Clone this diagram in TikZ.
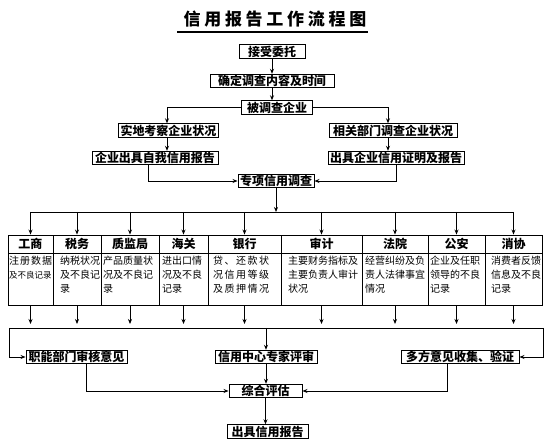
\documentclass[tikz,border=0pt]{standalone}
\usepackage{fontspec}
\setmainfont{Noto Sans CJK SC}
\newfontfamily\titlefont[LetterSpace=22]{Noto Sans CJK SC}
\newfontfamily\widefont[LetterSpace=15]{Noto Sans CJK SC}
\usetikzlibrary{arrows.meta,positioning,calc}

\begin{document}
\begin{tikzpicture}[x=1pt, y=-1pt, >={Stealth[length=5pt,width=4pt]},
  font=\fontsize{12}{12}\selectfont,
  box/.style={draw, line width=0.9pt, inner xsep=2pt, inner ysep=0pt,
    minimum height=13.5pt, font=\fontsize{12}{12}\selectfont\bfseries},
  flow/.style={->, line width=0.8pt},
  link/.style={line width=0.8pt},
  headcell/.style={draw, line width=0.9pt, minimum height=18pt, inner sep=0pt,
    font=\fontsize{12}{12}\selectfont\bfseries},
  bodycell/.style={draw, line width=0.9pt, minimum height=52pt, inner sep=0pt},
  celltext/.style={anchor=north west, align=left, inner sep=0pt,
    font=\fontsize{10}{14}\selectfont}
]

  \useasboundingbox (0,0) rectangle (550,446);

  % ---- title ----
  \node[font=\titlefont\fontsize{17}{17}\selectfont\bfseries] (title) at (275,19)
    {信用报告工作流程图};
  \draw[line width=1.3pt] (177,32) -- (368,32);

  % ---- upper chain ----
  \node[box, minimum width=66pt]  (accept)  at (272,51.5)    {接受委托};
  \node[box, minimum width=124pt] (scope)   at (272,81)      {确定调查内容及时间};
  \node[box, minimum width=71pt]  (target)  at (277,107.5)   {被调查企业};
  \node[box, minimum width=99pt]  (site)    at (168.5,130.5) {实地考察企业状况};
  \node[box, minimum width=128pt] (dept)    at (393,130.5)   {相关部门调查企业状况};
  \node[box, minimum width=126pt] (self)    at (155,158)     {企业出具自我信用报告};
  \node[box, minimum width=134pt] (cert)    at (396,158)     {出具企业信用证明及报告};
  \node[box, minimum width=74pt]  (special) at (276,181)     {专项信用调查};

  \draw[flow] (accept) -- (scope);
  \draw[flow] (scope.south) -- (scope.south |- target.north);
  \draw[flow] (target.west) -| ([xshift=-1.5pt]site.north);
  \draw[flow] (target.east) -| ([xshift=-5pt]dept.north);
  \draw[flow] ([xshift=-1.5pt]site.south) -- ([xshift=-1.5pt]site.south |- self.north);
  \draw[flow] ([xshift=-5pt]dept.south) -- ([xshift=-5pt]dept.south |- cert.north);
  \draw[flow] ([xshift=-7pt]self.south) |- (special.west);
  \draw[flow] (cert.south) |- (special.east);

  % ---- departments table ----
  \coordinate (spread) at (276,212);
  \coordinate (tipline) at (0,324);
  \foreach \i/\xl/\xr/\pad/\head/\body in {
      1/8/53/1/工商/{{\addfontfeature{LetterSpace=10}注册数据}\\{\fontsize{8.5}{14}\selectfont 及不良记录}},
      2/53/101/7/税务/{纳税状况\\及不良记\\录},
      3/101/159/2/质监局/{产品质量状\\况及不良记\\录},
      4/159/208/3/海关/{进出口情\\况及不良\\记录},
      5/208/281/5/银行/{\widefont 贷、还款状\\\widefont 况信用等级\\\widefont 及质押情况},
      6/281/362/7/审计/{主要财务指标及\\主要负责人审计\\状况},
      7/362/428/3/法院/{经营纠纷及负\\责人法律事宜\\情况},
      8/428/485/2/公安/{企业及任职\\领导的不良\\记录},
      9/485/542/6/消协/{消费者反馈\\信息及不良\\记录}} {
    \pgfmathsetmacro{\cw}{\xr-\xl}
    \pgfmathsetmacro{\xc}{(\xl+\xr)/2}
    \node[headcell, minimum width=\cw pt] (head\i) at (\xc,244) {\head};
    \node[bodycell, minimum width=\cw pt] (body\i) at (\xc,279) {};
    \node[celltext] (text\i) at (\xl+\pad,256) {\body};
  }
  \draw[flow] (special.south) -- (special.south |- spread);
  \draw[link] (head1.north |- spread) -- (head9.north |- spread);
  \foreach \i in {1,...,9} {
    \draw[flow] (head\i.north |- spread) -- (head\i.north);
    \draw[flow] (body\i.south) -- (body\i.south |- tipline);
  }

  % ---- review and result ----
  \coordinate (gatherL) at (9,328);
  \coordinate (gatherR) at (543,328);
  \node[box, minimum width=101pt] (review) at (76.5,357)    {职能部门审核意见};
  \node[box, minimum width=102pt] (expert) at (266,357)     {信用中心专家评审};
  \node[box, minimum width=118pt] (verify) at (460,357)     {多方意见收集、验证};
  \node[box, minimum width=73pt]  (eval)   at (265.5,391)   {综合评估};
  \node[box, minimum width=81pt]  (report) at (267.5,431.5) {出具信用报告};

  \draw[link] (gatherL) -- (gatherR);
  \draw[flow] (gatherL) |- (review.west);
  \draw[flow] (gatherR) |- (verify.east);
  \draw[flow] (expert.north |- gatherL) -- (expert.north);
  \draw[flow] (expert.south) -- (expert.south |- eval.north);
  \draw[flow] ([xshift=9.5pt]review.south) |- (eval.west);
  \draw[flow] ([xshift=-13pt]verify.south) |- (eval.east);
  \draw[flow] (eval.south) -- (eval.south |- report.north);

\end{tikzpicture}
\end{document}
